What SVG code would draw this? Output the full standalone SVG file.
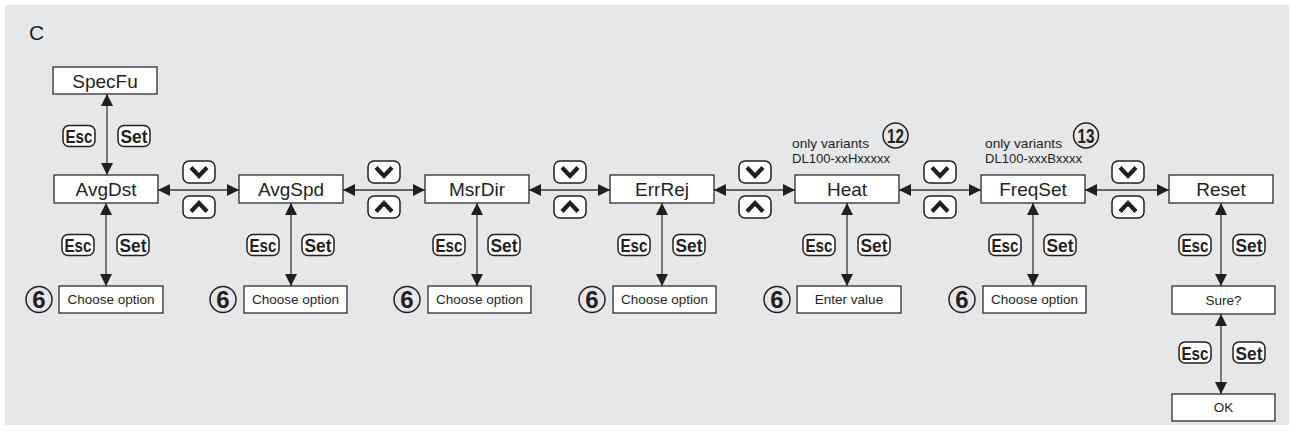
<svg xmlns="http://www.w3.org/2000/svg" width="1290" height="434" viewBox="0 0 1290 434">
<style>
.bg{fill:#e6e7e9}
.box{fill:#fff;stroke:#2b2b2b;stroke-width:1.3}
.lbl{font-family:"Liberation Sans",Arial,sans-serif;font-size:19px;fill:#231f20;text-anchor:middle}
.sm{font-family:"Liberation Sans",Arial,sans-serif;font-size:13.5px;fill:#231f20;text-anchor:middle}
.note{font-family:"Liberation Sans",Arial,sans-serif;font-size:13.5px;fill:#231f20}
.btn{fill:#fff;stroke:#231f20;stroke-width:1.5}
.btxt{font-family:"Liberation Sans",Arial,sans-serif;font-weight:bold;font-size:19px;fill:#231f20;text-anchor:middle}
.chev{fill:none;stroke:#231f20;stroke-width:4.2;stroke-linejoin:miter;stroke-linecap:butt}
.conn{fill:none;stroke:#3a3a3a;stroke-width:1.3}
.circ{fill:none;stroke:#231f20;stroke-width:1.5}
.num{font-family:"Liberation Sans",Arial,sans-serif;font-weight:bold;fill:#231f20;text-anchor:middle}
</style>
<defs>
<marker id="ah" viewBox="0 0 12 12" markerWidth="12" markerHeight="12" refX="12" refY="6" orient="auto-start-reverse" markerUnits="userSpaceOnUse">
<path d="M0,0 L12,6 L0,12 z" fill="#231f20"/>
</marker>
<g id="esc"><rect class="btn" x="0" y="0" width="32" height="21" rx="6"/><text class="btxt" x="16" y="17.5" textLength="27" lengthAdjust="spacingAndGlyphs">Esc</text></g>
<g id="set"><rect class="btn" x="0" y="0" width="32" height="21" rx="6"/><text class="btxt" x="16" y="17.5" textLength="27" lengthAdjust="spacingAndGlyphs">Set</text></g>
<g id="dn"><rect class="btn" x="0" y="0" width="32" height="22" rx="6"/><polyline class="chev" points="8,6.5 16,15 24,6.5"/></g>
<g id="up"><rect class="btn" x="0" y="0" width="32" height="22" rx="6"/><polyline class="chev" points="8,15.5 16,7 24,15.5"/></g>
<g id="six"><circle class="circ" cx="0" cy="0" r="13"/><text class="num" x="0" y="8.5" font-size="24">6</text></g>
</defs>
<rect class="bg" x="5" y="5" width="1284" height="420"/>
<text x="29" y="40" font-family="'Liberation Sans',Arial,sans-serif" font-size="21" fill="#231f20">C</text>

<g id="connectors">
<line class="conn" x1="107" y1="94" x2="107" y2="175" marker-start="url(#ah)" marker-end="url(#ah)"/>
<line class="conn" x1="106" y1="203" x2="106" y2="286" marker-start="url(#ah)" marker-end="url(#ah)"/>
<line class="conn" x1="291" y1="203" x2="291" y2="286" marker-start="url(#ah)" marker-end="url(#ah)"/>
<line class="conn" x1="477" y1="203" x2="477" y2="286" marker-start="url(#ah)" marker-end="url(#ah)"/>
<line class="conn" x1="662" y1="203" x2="662" y2="286" marker-start="url(#ah)" marker-end="url(#ah)"/>
<line class="conn" x1="847" y1="203" x2="847" y2="286" marker-start="url(#ah)" marker-end="url(#ah)"/>
<line class="conn" x1="1033" y1="203" x2="1033" y2="286" marker-start="url(#ah)" marker-end="url(#ah)"/>
<line class="conn" x1="1221" y1="203" x2="1221" y2="286" marker-start="url(#ah)" marker-end="url(#ah)"/>
<line class="conn" x1="1221" y1="314" x2="1221" y2="394" marker-start="url(#ah)" marker-end="url(#ah)"/>
<line class="conn" x1="158" y1="190" x2="239" y2="190" marker-start="url(#ah)" marker-end="url(#ah)"/>
<line class="conn" x1="343" y1="190" x2="425" y2="190" marker-start="url(#ah)" marker-end="url(#ah)"/>
<line class="conn" x1="529" y1="190" x2="610" y2="190" marker-start="url(#ah)" marker-end="url(#ah)"/>
<line class="conn" x1="714" y1="190" x2="795" y2="190" marker-start="url(#ah)" marker-end="url(#ah)"/>
<line class="conn" x1="899" y1="190" x2="981" y2="190" marker-start="url(#ah)" marker-end="url(#ah)"/>
<line class="conn" x1="1085" y1="190" x2="1169" y2="190" marker-start="url(#ah)" marker-end="url(#ah)"/>
</g>

<g id="buttons">
<use href="#esc" x="63" y="125.5"/><use href="#set" x="118" y="125.5"/>
<use href="#esc" x="62" y="234.5"/><use href="#set" x="117" y="234.5"/>
<use href="#esc" x="247" y="234.5"/><use href="#set" x="302" y="234.5"/>
<use href="#esc" x="433" y="234.5"/><use href="#set" x="488" y="234.5"/>
<use href="#esc" x="618" y="234.5"/><use href="#set" x="673" y="234.5"/>
<use href="#esc" x="803" y="234.5"/><use href="#set" x="858" y="234.5"/>
<use href="#esc" x="989" y="234.5"/><use href="#set" x="1044" y="234.5"/>
<use href="#esc" x="1179" y="234.5"/><use href="#set" x="1233" y="234.5"/>
<use href="#esc" x="1179" y="342"/><use href="#set" x="1233" y="342"/>
<use href="#dn" x="183" y="161"/><use href="#up" x="183" y="196"/>
<use href="#dn" x="368" y="161"/><use href="#up" x="368" y="196"/>
<use href="#dn" x="554" y="161"/><use href="#up" x="554" y="196"/>
<use href="#dn" x="739" y="161"/><use href="#up" x="739" y="196"/>
<use href="#dn" x="924" y="161"/><use href="#up" x="924" y="196"/>
<use href="#dn" x="1112" y="161"/><use href="#up" x="1112" y="196"/>
</g>

<g id="n-specfu"><rect class="box" x="53" y="67" width="104" height="27"/><text class="lbl" x="105" y="87.5">SpecFu</text></g>
<g id="n-avgdst"><rect class="box" x="54" y="175" width="104" height="28"/><text class="lbl" x="106" y="195.5">AvgDst</text></g>
<g id="n-avgspd"><rect class="box" x="239" y="175" width="104" height="28"/><text class="lbl" x="291" y="195.5">AvgSpd</text></g>
<g id="n-msrdir"><rect class="box" x="425" y="175" width="104" height="28"/><text class="lbl" x="477" y="195.5">MsrDir</text></g>
<g id="n-errrej"><rect class="box" x="610" y="175" width="104" height="28"/><text class="lbl" x="662" y="195.5">ErrRej</text></g>
<g id="n-heat"><rect class="box" x="795" y="175" width="104" height="28"/><text class="lbl" x="847" y="195.5">Heat</text></g>
<g id="n-freqset"><rect class="box" x="981" y="175" width="104" height="28"/><text class="lbl" x="1033" y="195.5">FreqSet</text></g>
<g id="n-reset"><rect class="box" x="1169" y="175" width="104" height="28"/><text class="lbl" x="1221" y="195.5">Reset</text></g>

<g id="n-opt1"><rect class="box" x="59" y="286" width="104" height="27"/><text class="sm" x="111" y="304">Choose option</text><use href="#six" x="39" y="299.5"/></g>
<g id="n-opt2"><rect class="box" x="244" y="286" width="103" height="27"/><text class="sm" x="295.5" y="304">Choose option</text><use href="#six" x="223" y="299.5"/></g>
<g id="n-opt3"><rect class="box" x="428" y="286" width="103" height="27"/><text class="sm" x="479.5" y="304">Choose option</text><use href="#six" x="407" y="299.5"/></g>
<g id="n-opt4"><rect class="box" x="613" y="286" width="103" height="27"/><text class="sm" x="664.5" y="304">Choose option</text><use href="#six" x="592" y="299.5"/></g>
<g id="n-val"><rect class="box" x="797" y="286" width="104" height="27"/><text class="sm" x="849" y="304">Enter value</text><use href="#six" x="777" y="299.5"/></g>
<g id="n-opt6"><rect class="box" x="983" y="286" width="103" height="27"/><text class="sm" x="1034.5" y="304">Choose option</text><use href="#six" x="962" y="299.5"/></g>
<g id="n-sure"><rect class="box" x="1172" y="286" width="103" height="28"/><text class="sm" x="1223.5" y="304.5">Sure?</text></g>
<g id="n-ok"><rect class="box" x="1172" y="394" width="103" height="27"/><text class="sm" x="1223.5" y="412">OK</text></g>

<g id="note-heat">
<text class="note" x="792" y="147.5" textLength="77" lengthAdjust="spacingAndGlyphs">only variants</text>
<text class="note" x="792" y="163.3" textLength="98" lengthAdjust="spacingAndGlyphs">DL100-xxHxxxxx</text>
<circle class="circ" cx="895.5" cy="135.5" r="12.5"/>
<text class="num" x="895.5" y="143" font-size="20" textLength="17" lengthAdjust="spacingAndGlyphs">12</text>
</g>
<g id="note-freq">
<text class="note" x="985" y="147.5" textLength="77" lengthAdjust="spacingAndGlyphs">only variants</text>
<text class="note" x="985" y="163.3" textLength="97" lengthAdjust="spacingAndGlyphs">DL100-xxxBxxxx</text>
<circle class="circ" cx="1086" cy="135.5" r="12.5"/>
<text class="num" x="1086" y="143" font-size="20" textLength="17" lengthAdjust="spacingAndGlyphs">13</text>
</g>
</svg>
